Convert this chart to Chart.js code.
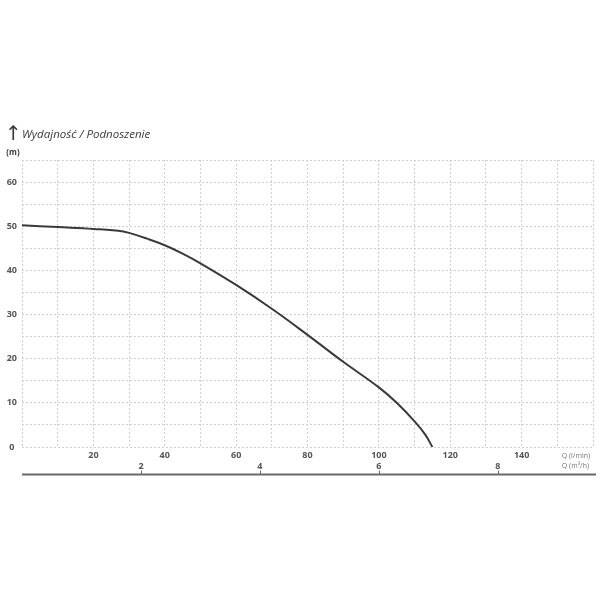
<!DOCTYPE html>
<html><head><meta charset="utf-8">
<script src="https://cdn.jsdelivr.net/npm/chart.js@4"></script>
<style>html,body{margin:0;padding:0;background:#fff}#wrap{width:600px;height:600px;position:relative}</style>
</head><body><div id="wrap"><canvas id="c" width="600" height="600"></canvas></div>
<script>
// Pump curve: flow Q (l/min) vs head H (m)
const flowLmin = [0, 10, 20, 27, 30, 35, 40, 45, 50, 60, 70, 80, 90, 100, 105, 110, 113, 115];
const headM    = [50.2, 49.8, 49.4, 49.0, 48.5, 47.2, 45.7, 43.8, 41.6, 36.7, 31.3, 25.4, 19.3, 13.5, 10.0, 5.8, 2.8, 0];
const flowLabels = [20, 40, 60, 80, 100, 120, 140];
const headLabels = [0, 10, 20, 30, 40, 50, 60];
const flowM3hLabels = [2, 4, 6, 8];
const LMIN_TO_M3H = 0.06;
const FLOW_MAX = 160, HEAD_MAX = 65;

const tickFont = {family: 'Open Sans', weight: 'bold', size: 9};
const gridStyle = {color: '#d0d0d0', lineWidth: 1, drawTicks: false};

const annot = {
  id: 'annot',
  afterDraw(chart) {
    const ctx = chart.ctx;
    const x2 = chart.scales.x2;
    ctx.save();
    const yLine = 474.5;
    ctx.strokeStyle = '#6a6a6a';
    ctx.lineWidth = 2;
    ctx.beginPath(); ctx.moveTo(chart.chartArea.left, yLine); ctx.lineTo(596, yLine); ctx.stroke();
    ctx.lineWidth = 1;
    flowM3hLabels.forEach(v => {
      const px = Math.round(x2.getPixelForValue(v)) + 0.5;
      ctx.beginPath(); ctx.moveTo(px, yLine - 4); ctx.lineTo(px, yLine); ctx.stroke();
    });
    // texts
    ctx.fillStyle = '#3a3a3a';
    ctx.textBaseline = 'alphabetic';
    ctx.textAlign = 'left';
    ctx.font = '20px "DejaVu Sans"';
    ctx.fillText('\u2191', 5, 140);
    ctx.font = 'italic 11.5px "Open Sans"';
    ctx.fillText('Wydajność / Podnoszenie', 22, 137.5);
    ctx.font = 'bold 8px "Open Sans"';
    ctx.textAlign = 'center';
    ctx.fillText('(m)', 13, 155);
    ctx.fillStyle = '#777';
    ctx.textAlign = 'right';
    ctx.font = '7px "Open Sans"';
    ctx.fillText('Q (l/min)', 590, 457.5);
    ctx.fillText('Q (m\u00B3/h)', 589, 467.5);
    ctx.restore();
  }
};

new Chart(document.getElementById('c'), {
  type: 'line',
  data: {
    datasets: [{
      data: flowLmin.map((q, i) => ({x: q, y: headM[i]})),
      borderColor: '#3a3a3a',
      borderWidth: 2,
      pointRadius: 0,
      fill: false,
      tension: 0.4
    }]
  },
  options: {
    responsive: false,
    animation: false,
    layout: {padding: {left: 2, right: 7, top: 160, bottom: 123}},
    plugins: {legend: {display: false}, tooltip: {enabled: false}},
    scales: {
      x: {
        type: 'linear', position: 'bottom', weight: 0,
        min: 0, max: FLOW_MAX,
        grid: gridStyle,
        border: {display: false, dash: [2, 2]},
        ticks: {stepSize: 10, autoSkip: false, maxRotation: 0, padding: 3, color: '#555', font: tickFont,
          callback: v => flowLabels.includes(v) ? String(v) : ''},
        afterFit: s => { s.height = 14; }
      },
      x2: {
        type: 'linear', position: 'bottom', weight: 1,
        min: 0, max: FLOW_MAX * LMIN_TO_M3H,
        grid: {display: false, drawTicks: false},
        border: {display: false},
        ticks: {stepSize: 2, autoSkip: false, maxRotation: 0, padding: 0, color: '#555', font: tickFont,
          callback: v => flowM3hLabels.includes(v) ? String(v) : ''},
        afterFit: s => { s.height = 16; }
      },
      y: {
        type: 'linear', min: 0, max: HEAD_MAX,
        grid: gridStyle,
        border: {display: false, dash: [2, 2]},
        ticks: {stepSize: 5, autoSkip: false, padding: 5, crossAlign: 'center', color: '#555', font: tickFont,
          callback: v => headLabels.includes(v) ? String(v) : ''},
        afterFit: s => { s.width = 20; }
      }
    }
  },
  plugins: [annot]
});
</script></body></html>
